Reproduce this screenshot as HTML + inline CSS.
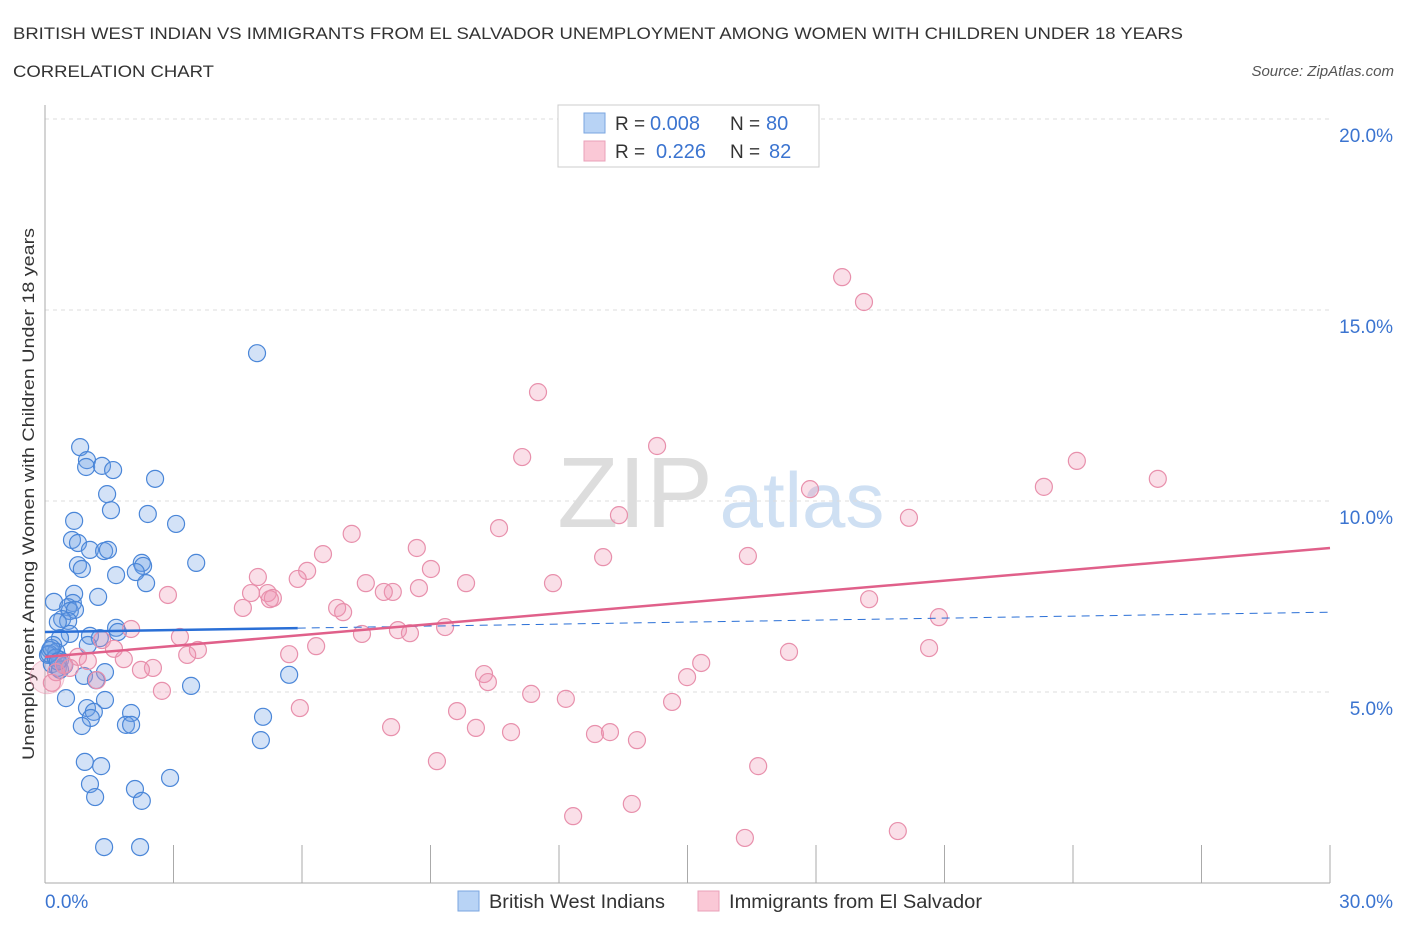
<!DOCTYPE html>
<html><head><meta charset="utf-8"><style>
body{margin:0;background:#fff;font-family:"Liberation Sans",sans-serif}
svg text{font-family:"Liberation Sans",sans-serif}
</style></head><body>
<svg id="chart" width="1406" height="930">
<text x="13" y="39" font-size="17" fill="#333" textLength="1170" lengthAdjust="spacingAndGlyphs">BRITISH WEST INDIAN VS IMMIGRANTS FROM EL SALVADOR UNEMPLOYMENT AMONG WOMEN WITH CHILDREN UNDER 18 YEARS</text>
<text x="13" y="77" font-size="17" fill="#333" textLength="201" lengthAdjust="spacingAndGlyphs">CORRELATION CHART</text>
<text x="1394" y="76" font-size="15" fill="#555" font-style="italic" text-anchor="end">Source: ZipAtlas.com</text>
<text x="635" y="527" font-size="100" fill="#ddd" font-family="Liberation Serif" text-anchor="middle">ZIP</text>
<text x="802" y="527" font-size="78" fill="#cfe0f3" text-anchor="middle">atlas</text>
<g id="grid"></g>
<line x1="45" y1="105" x2="45" y2="883" stroke="#aaa"/>
<line x1="45" y1="883" x2="1330" y2="883" stroke="#aaa"/>
<text transform="translate(34,494) rotate(-90)" font-size="17" fill="#333" text-anchor="middle" textLength="532" lengthAdjust="spacingAndGlyphs">Unemployment Among Women with Children Under 18 years</text>
<text x="45" y="908" font-size="19" fill="#3b74d0">0.0%</text>
<text x="1393" y="908" font-size="19" fill="#3b74d0" text-anchor="end">30.0%</text>
<g id="points"></g>
<g id="lines"></g>
<g>
<rect x="558" y="105" width="261" height="62" fill="#fff" stroke="#ccc"/>
<rect x="584" y="113" width="21" height="20" fill="#b8d3f5" stroke="#7aa6e0"/>
<rect x="584" y="141" width="21" height="20" fill="#fac8d6" stroke="#eaa0b8"/>
<text x="615" y="130" font-size="19" fill="#333">R =</text>
<text x="650" y="130" font-size="20" fill="#3b74d0">0.008</text>
<text x="730" y="130" font-size="19" fill="#333">N =</text>
<text x="766" y="130" font-size="20" fill="#3b74d0">80</text>
<text x="615" y="158" font-size="19" fill="#333">R =</text>
<text x="656" y="158" font-size="20" fill="#3b74d0">0.226</text>
<text x="730" y="158" font-size="19" fill="#333">N =</text>
<text x="769" y="158" font-size="20" fill="#3b74d0">82</text>
</g>
<g>
<rect x="458" y="891" width="21" height="20" fill="#b8d3f5" stroke="#7aa6e0"/>
<text x="489" y="908" font-size="19" fill="#333" textLength="176" lengthAdjust="spacingAndGlyphs">British West Indians</text>
<rect x="698" y="891" width="21" height="20" fill="#fac8d6" stroke="#eaa0b8"/>
<text x="729" y="908" font-size="19" fill="#333" textLength="253" lengthAdjust="spacingAndGlyphs">Immigrants from El Salvador</text>
</g>
</svg>
<script>
const yTicks=[5,10,15,20];
const yTickLabels=["5.0%","10.0%","15.0%","20.0%"];
const xTicks=[0,3,6,9,12,15,18,21,24,27,30];
const blueX=[4.95,0.82,0.98,0.96,1.33,1.59,2.57,1.45,1.54,2.40,0.68,3.06,0.63,0.77,1.05,1.38,1.47,2.26,2.29,3.53,0.77,0.86,1.66,2.12,2.36,0.68,0.21,0.65,0.54,0.58,0.70,1.24,0.40,0.54,0.30,1.66,1.70,1.05,0.58,0.35,1.28,1.0,0.19,0.12,0.26,0.07,0.35,0.16,0.30,0.35,1.40,0.91,1.19,1.40,0.49,3.41,5.70,0.98,1.14,1.07,2.01,1.89,2.01,5.09,5.04,0.93,1.31,2.92,1.05,2.10,1.17,2.26,1.38,2.22,0.86,0.10,0.25,0.45,0.15,0.30];
const blueY=[13.87,11.41,11.07,10.89,10.92,10.81,10.58,10.18,9.76,9.66,9.48,9.40,8.98,8.90,8.72,8.69,8.72,8.38,8.30,8.38,8.32,8.22,8.06,8.14,7.85,7.57,7.36,7.33,7.22,7.12,7.15,7.49,6.91,6.86,6.83,6.68,6.57,6.47,6.52,6.41,6.41,6.23,6.23,6.10,6.05,5.97,5.84,5.73,5.63,5.58,5.52,5.42,5.31,4.79,4.84,5.16,5.45,4.58,4.48,4.32,4.45,4.14,4.14,4.35,3.74,3.17,3.06,2.75,2.59,2.46,2.25,2.15,0.94,0.94,4.11,6.00,5.90,5.70,6.15,5.80];
const pinkX=[18.61,19.12,11.51,14.29,11.14,24.09,25.98,23.32,17.86,13.40,20.17,10.60,7.16,8.68,6.49,13.03,16.41,6.12,9.01,5.90,4.97,7.49,9.83,11.86,8.73,8.12,5.20,7.91,2.87,4.81,5.32,5.25,4.62,6.82,6.96,19.24,20.87,7.40,8.24,8.52,9.34,2.01,3.15,1.33,6.33,1.61,3.57,3.32,5.70,17.37,20.64,0.77,1.84,1.0,2.52,2.24,15.32,0.44,0.58,0.26,10.25,10.34,14.99,1.21,0.16,2.73,11.35,12.16,14.64,5.95,9.62,8.08,10.06,10.88,12.84,13.19,13.82,9.15,16.65,13.70,12.33,16.34,19.91];
const pinkY=[15.86,15.21,12.85,11.44,11.15,11.05,10.58,10.37,10.31,9.63,9.56,9.29,9.14,8.77,8.61,8.53,8.56,8.17,8.22,7.96,8.01,7.85,7.85,7.85,7.72,7.62,7.59,7.62,7.54,7.59,7.46,7.43,7.20,7.20,7.09,7.43,6.96,6.52,6.62,6.54,6.70,6.65,6.44,6.36,6.20,6.13,6.10,5.97,5.99,6.05,6.15,5.92,5.86,5.81,5.63,5.58,5.76,5.71,5.63,5.52,5.47,5.26,5.39,5.31,5.24,5.03,4.95,4.82,4.74,4.58,4.50,4.08,4.06,3.95,3.90,3.95,3.74,3.19,3.06,2.07,1.75,1.18,1.36];
const blueTrend=[6.57,7.09];
const pinkTrend=[5.92,8.77];
const blueSolidEnd=5.9;
const NS="http://www.w3.org/2000/svg";
const xs=v=>45+v/30*1285;
const ys=v=>883-v/5*191;
function mk(tag,attrs,parent){const e=document.createElementNS(NS,tag);for(const k in attrs)e.setAttribute(k,attrs[k]);document.getElementById(parent).appendChild(e);return e;}
yTicks.forEach((t,i)=>{
 const g=mk('line',{x1:45,x2:1330,y1:ys(t),y2:ys(t),stroke:'#ddd','stroke-dasharray':'4,4'},'grid');
 
 
 const l=mk('text',{x:1393,y:ys(t)+23,'font-size':19,fill:'#3b74d0','text-anchor':'end'},'grid');
 l.textContent=yTickLabels[i];
 
 
});
xTicks.forEach(t=>{
 const g=mk('line',{x1:xs(t),x2:xs(t),y1:845,y2:883,stroke:'#aaa'},'grid');
 
 
});
const big=mk('circle',{cx:xs(0.05),cy:ys(5.4),r:17,fill:'rgba(240,150,180,0.25)',stroke:'rgba(232,144,172,0.5)'},'points');


blueX.forEach((x,i)=>{
 const c=mk('circle',{cx:xs(x),cy:ys(blueY[i]),r:8.5,fill:'rgba(110,160,230,0.3)',stroke:'#4a86d8','stroke-width':1.2},'points');
 
 
});
pinkX.forEach((x,i)=>{
 const c=mk('circle',{cx:xs(x),cy:ys(pinkY[i]),r:8.5,fill:'rgba(240,150,180,0.3)',stroke:'#e890ac','stroke-width':1.2},'points');
 
 
});
const by=x=>blueTrend[0]+(blueTrend[1]-blueTrend[0])*x/30;
let l1=mk('line',{x1:xs(0),y1:ys(by(0)),x2:xs(blueSolidEnd),y2:ys(by(blueSolidEnd)),stroke:'#2a6fd6','stroke-width':2.5},'lines');


let l2=mk('line',{x1:xs(blueSolidEnd),y1:ys(by(blueSolidEnd)),x2:xs(30),y2:ys(by(30)),stroke:'#2a6fd6','stroke-width':1,'stroke-dasharray':'8,6'},'lines');


let l3=mk('line',{x1:xs(0),y1:ys(pinkTrend[0]),x2:xs(30),y2:ys(pinkTrend[1]),stroke:'#e0608a','stroke-width':2.5},'lines');


</script>
</body></html>
